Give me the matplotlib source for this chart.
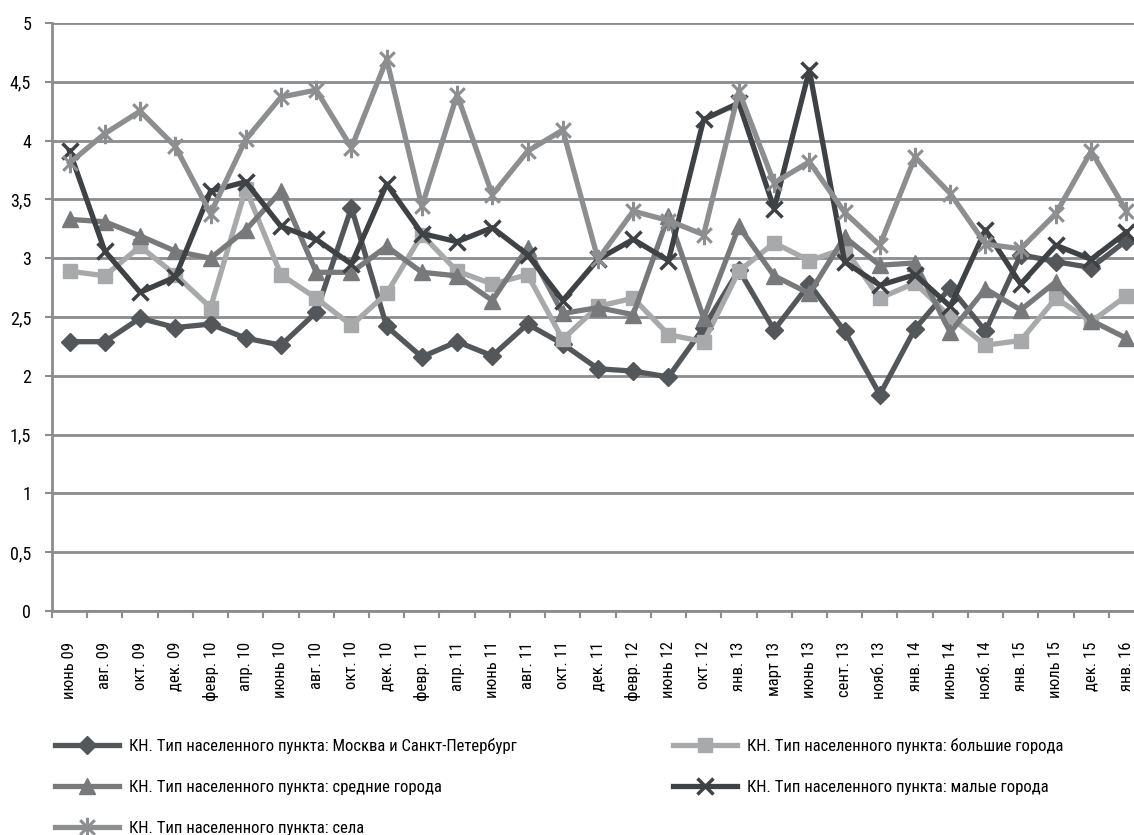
import matplotlib
matplotlib.use('Agg')
import matplotlib.pyplot as plt
from matplotlib.path import Path
import numpy as np

plt.rcParams['font.family'] = ['Roboto Condensed', 'PT Sans Narrow', 'DejaVu Sans']

# подписи месяцев
labels = ['июнь 09', 'авг. 09', 'окт. 09', 'дек. 09', 'февр. 10', 'апр. 10', 'июнь 10',
          'авг. 10', 'окт. 10', 'дек. 10', 'февр. 11', 'апр. 11', 'июнь 11', 'авг. 11',
          'окт. 11', 'дек. 11', 'февр. 12', 'июнь 12', 'окт. 12', 'янв. 13', 'март 13',
          'июнь 13', 'сент. 13', 'нояб. 13', 'янв. 14', 'июнь 14', 'нояб. 14', 'янв. 15',
          'июль 15', 'дек. 15', 'янв. 16']

msk = [2.29, 2.29, 2.49, 2.41, 2.44, 2.32, 2.26, 2.54, 3.43, 2.42,
       2.16, 2.29, 2.17, 2.44, 2.27, 2.06, 2.04, 1.99, 2.41, 2.90,
       2.39, 2.78, 2.38, 1.84, 2.40, 2.75, 2.38, 3.03, 2.97, 2.92, 3.15]
bolshie = [2.89, 2.85, 3.10, 2.86, 2.58, 3.59, 2.86, 2.66, 2.43, 2.70,
           3.20, 2.89, 2.78, 2.86, 2.31, 2.59, 2.66, 2.35, 2.29, 2.89,
           3.13, 2.98, 3.08, 2.66, 2.79, 2.50, 2.26, 2.30, 2.66, 2.46, 2.68]
srednie = [3.33, 3.31, 3.19, 3.06, 3.00, 3.24, 3.57, 2.88, 2.88, 3.10,
           2.88, 2.85, 2.64, 3.09, 2.53, 2.58, 2.52, 3.36, 2.49, 3.27,
           2.85, 2.70, 3.18, 2.94, 2.96, 2.37, 2.74, 2.56, 2.80, 2.47, 2.32]
malye = [3.91, 3.06, 2.71, 2.84, 3.57, 3.65, 3.27, 3.16, 2.95, 3.63,
         3.21, 3.14, 3.26, 3.03, 2.64, 2.99, 3.16, 2.98, 4.18, 4.32,
         3.42, 4.60, 2.97, 2.77, 2.86, 2.59, 3.24, 2.78, 3.11, 2.99, 3.22]
sela = [3.81, 4.06, 4.25, 3.95, 3.38, 4.01, 4.37, 4.43, 3.94, 4.69,
        3.44, 4.39, 3.54, 3.91, 4.09, 2.99, 3.40, 3.32, 3.20, 4.42,
        3.64, 3.82, 3.39, 3.11, 3.86, 3.55, 3.12, 3.08, 3.38, 3.91, 3.40]

names = ['КН. Тип населенного пункта: Москва и Санкт-Петербург',
         'КН. Тип населенного пункта: большие города',
         'КН. Тип населенного пункта: средние города',
         'КН. Тип населенного пункта: малые города',
         'КН. Тип населенного пункта: села']

# маркер-звездочка как в Excel
star = Path([(0, -1), (0, 1), (-0.75, -0.75), (0.75, 0.75), (-0.75, 0.75), (0.75, -0.75)],
            [Path.MOVETO, Path.LINETO, Path.MOVETO, Path.LINETO, Path.MOVETO, Path.LINETO])

grid_c = '#8a8c8d'
fig = plt.figure(figsize=(11.34, 8.35), dpi=100)
ax = fig.add_axes([52 / 1134, 1 - 611 / 835, 1092 / 1134, 588 / 835])

x = np.arange(len(labels))
lw = 3.8
h1, = ax.plot(x, msk, color='#545759', lw=lw, marker='D', ms=9, zorder=3)
h2, = ax.plot(x, bolshie, color='#a7a9aa', lw=lw, marker='s', ms=10, zorder=3)
h3, = ax.plot(x, srednie, color='#77797b', lw=lw, marker='^', ms=11, zorder=3)
h4, = ax.plot(x, malye, color='#3f4244', lw=lw, marker='x', ms=12, mew=2.5, zorder=3)
h5, = ax.plot(x, sela, color='#8c8e8f', lw=lw, marker=star, ms=14, mew=2.2, zorder=3)

ax.set_xlim(-0.5, len(labels) - 0.5)
ax.set_ylim(0, 5)
ax.set_yticks(np.arange(0, 5.01, 0.5))
ax.set_yticklabels(['0', '0,5', '1', '1,5', '2', '2,5', '3', '3,5', '4', '4,5', '5'], fontsize=13)
ax.yaxis.grid(True, color=grid_c, lw=2)
ax.set_axisbelow(True)

ax.set_xticks(x)
ax.set_xticklabels(labels, rotation=90, fontsize=12)
ax.set_xticks(np.arange(-0.5, len(labels), 1), minor=True)
ax.tick_params(axis='x', which='major', length=0, pad=22)
ax.tick_params(axis='x', which='minor', length=5, width=1.5, color=grid_c)
ax.tick_params(axis='y', length=5, width=1.5, color=grid_c, pad=10)

for s in ['top', 'right']:
    ax.spines[s].set_visible(False)
ax.spines['left'].set_color(grid_c)
ax.spines['left'].set_linewidth(2)
ax.spines['bottom'].set_color(grid_c)
ax.spines['bottom'].set_linewidth(2)

leg_kw = dict(frameon=False, fontsize=12, handlelength=3.85, handletextpad=0.6,
              labelspacing=1.55, loc='upper left', borderpad=0, borderaxespad=0)
fig.legend([h1, h3, h5], [names[0], names[2], names[4]],
           bbox_to_anchor=(55 / 1134, 1 - 738 / 835), **leg_kw)
fig.legend([h2, h4], [names[1], names[3]],
           bbox_to_anchor=(673 / 1134, 1 - 738 / 835), **leg_kw)

fig.savefig('out.png', dpi=100)
